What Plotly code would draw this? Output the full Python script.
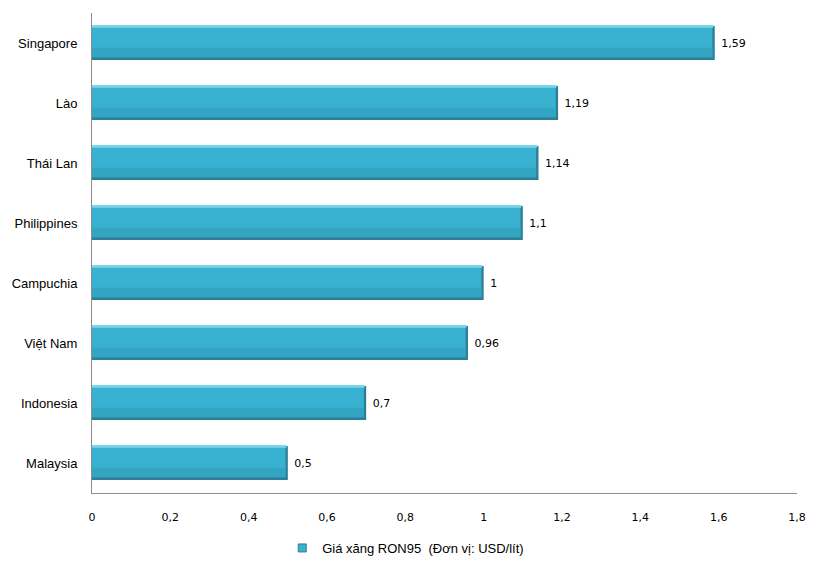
import plotly.graph_objects as go

countries = ["Singapore", "Lào", "Thái Lan", "Philippines", "Campuchia", "Việt Nam", "Indonesia", "Malaysia"]
prices = [1.59, 1.19, 1.14, 1.1, 1.0, 0.96, 0.7, 0.5]
tick_vals = [0, 0.2, 0.4, 0.6, 0.8, 1.0, 1.2, 1.4, 1.6, 1.8]
series_name = "Giá xăng RON95  (Đơn vị: USD/lít)"

labels = ["\u00a0" + ("%g" % v).replace(".", ",") for v in prices]

BW = 0.567
fig = go.Figure()
# base (dark edge) bar carrying the value labels
fig.add_trace(go.Bar(
    x=prices, y=countries, orientation="h",
    marker=dict(color="#2C7F95", line=dict(width=0)),
    text=labels, textposition="outside",
    textfont=dict(family="DejaVu Sans", size=11, color="#000000"),
    cliponaxis=False, width=BW, offset=-BW / 2,
    showlegend=False, hoverinfo="x+y",
))
# main body
fig.add_trace(go.Bar(
    x=[p - 0.006 for p in prices], y=countries, orientation="h",
    marker=dict(color="#39B1D1", line=dict(width=0)),
    width=BW - 0.045, offset=-BW / 2,
    showlegend=False, hoverinfo="skip",
))
# lower body slightly darker
fig.add_trace(go.Bar(
    x=[p - 0.006 for p in prices], y=countries, orientation="h",
    marker=dict(color="#34A4C3", line=dict(width=0)),
    width=0.16, offset=BW / 2 - 0.045 - 0.16,
    showlegend=False, hoverinfo="skip",
))
# top highlight
fig.add_trace(go.Bar(
    x=[p - 0.004 for p in prices], y=countries, orientation="h",
    marker=dict(color="#79D6EA", line=dict(width=0)),
    width=0.03, offset=-BW / 2,
    showlegend=False, hoverinfo="skip",
))
# legend entry
fig.add_trace(go.Scatter(
    x=[None], y=[None], mode="markers", name=series_name,
    marker=dict(symbol="square", size=8, color="#39B1D1",
                line=dict(color="#2C7F95", width=1)),
))

fig.update_layout(
    width=816, height=564,
    margin=dict(l=92, r=19, t=13, b=71),
    paper_bgcolor="white", plot_bgcolor="white",
    barmode="overlay",
    separators=",.",
    font=dict(family="Liberation Sans", size=12, color="#000000"),
    xaxis=dict(range=[0, 1.8], tickvals=tick_vals,
               ticktext=[("%g" % v).replace(".", ",") for v in tick_vals],
               showgrid=False, zeroline=False, showline=True,
               linecolor="#8c8c8c", linewidth=1, ticks="",
               ticklabelstandoff=14, automargin=False,
               tickfont=dict(family="DejaVu Sans", size=11, color="#000000"),
               fixedrange=True),
    yaxis=dict(autorange="reversed", showgrid=False, zeroline=False,
               showline=True, linecolor="#8c8c8c", linewidth=1, ticks="",
               ticklabelstandoff=11, automargin=False,
               tickfont=dict(family="Liberation Sans", size=13, color="#000000")),
    legend=dict(orientation="h", x=0.445, xanchor="center",
                yref="container", y=1 - 548 / 564, yanchor="middle",
                font=dict(family="Liberation Sans", size=13, color="#000000"),
                itemwidth=30, bgcolor="rgba(0,0,0,0)"),
)

fig.write_html("out.html", config={"displayModeBar": False},
               post_script="document.body.style.margin='0';")
